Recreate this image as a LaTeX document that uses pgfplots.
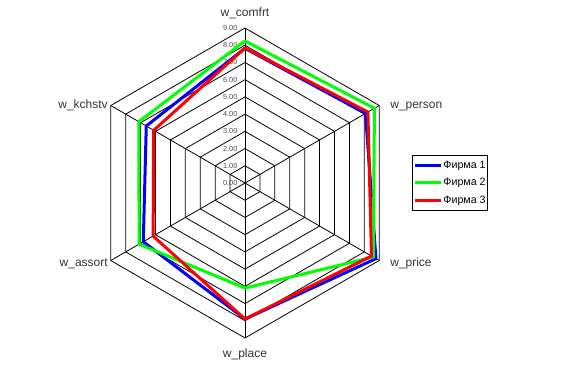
\documentclass[border=0pt]{standalone}
\usepackage{pgfplots}
\pgfplotsset{compat=1.18}
\usepgfplotslibrary{polar}
\usepackage{fontspec}
\setmainfont{Liberation Sans}
\begin{document}
\begin{tikzpicture}
\useasboundingbox (0,0) rectangle (432pt,-276.75pt);
\begin{polaraxis}[
  at={(183.75pt,-137.25pt)}, anchor=center,
  scale only axis, width=232.5pt, height=232.5pt,
  ymin=0, ymax=9, hide axis, clip=false,
  legend style={at={(1.039,0.59)}, anchor=north west, draw=black, line width=0.6pt,
    font=\fontsize{8}{9}\selectfont, inner xsep=1pt, inner ysep=1pt, row sep=0pt,
    cells={anchor=west}, nodes={inner xsep=0.5pt, inner ysep=3pt}},
  legend image code/.code={\draw[#1, line width=2.25pt] (0pt,0pt) -- (19.5pt,0pt);},
]
% grid rings
\pgfplotsinvokeforeach{1,...,9}{
  \addplot[black, line width=0.6pt, forget plot] coordinates {(90,#1) (30,#1) (-30,#1) (-90,#1) (-150,#1) (150,#1) (90,#1)};
}
% spokes
\pgfplotsinvokeforeach{90,30,-30,-90,-150,150}{
  \addplot[black, line width=0.6pt, forget plot] coordinates {(#1,0) (#1,9)};
}
% tick labels
\pgfplotsinvokeforeach{0,...,9}{
  \node[anchor=east, font=\fontsize{5.5}{6}\selectfont, text=black!70, inner sep=0pt, xshift=-5.5pt] at (axis cs:90,#1) {#1.00};
}
% data: comfrt, person, price, place, assort, kchstv
\addplot[blue, line width=2.25pt] coordinates {(90,7.82) (30,8.08) (-30,8.78) (-90,7.9) (-150,6.82) (150,6.62) (90,7.82)};
\addlegendentry{Фирма 1}
\addplot[green, line width=2.25pt] coordinates {(90,8.25) (30,8.68) (-30,8.6) (-90,6.1) (-150,7.1) (150,7.12) (90,8.25)};
\addlegendentry{Фирма 2}
\addplot[red, line width=2.25pt] coordinates {(90,7.84) (30,8.24) (-30,8.48) (-90,7.9) (-150,6.16) (150,6.12) (90,7.84)};
\addlegendentry{Фирма 3}
\end{polaraxis}
\begin{scope}[x=0.75pt,y=-0.75pt, font=\fontsize{9}{10}\selectfont, text=black!80]
\node[anchor=base] at (245,16) {w\_comfrt};
\node[anchor=base west, inner sep=0pt] at (390,108) {w\_person};
\node[anchor=base west, inner sep=0pt] at (390,266) {w\_price};
\node[anchor=base] at (245,357) {w\_place};
\node[anchor=base east, inner sep=0pt] at (108,266) {w\_assort};
\node[anchor=base east, inner sep=0pt] at (108,108) {w\_kchstv};
\end{scope}
\end{tikzpicture}
\end{document}
